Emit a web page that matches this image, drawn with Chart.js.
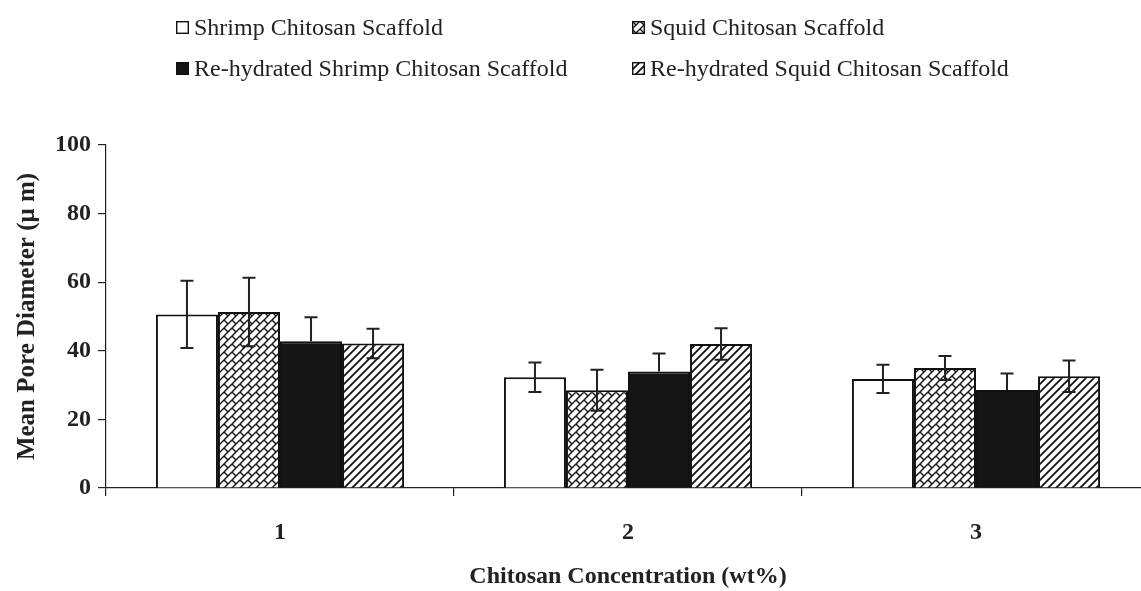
<!DOCTYPE html>
<html>
<head>
<meta charset="utf-8">
<script src="https://cdn.jsdelivr.net/npm/chart.js@4/dist/chart.umd.min.js"></script>
<style>
  html, body { margin: 0; padding: 0; background: #fff; overflow: hidden; }
  #wrap { position: relative; width: 1170px; height: 591px; }
  #legend { position: absolute; left: 0; top: 0; width: 1141px; height: 100px;
            font-family: "Liberation Serif", "Times New Roman", serif; font-size: 24px; color: #222; }
  .item { position: absolute; display: flex; align-items: center; white-space: nowrap; }
  .item canvas { margin-right: 5px; }
</style>
</head>
<body>
<div id="wrap">
  <canvas id="c" width="1170" height="591"></canvas>
  <div id="legend"></div>
</div>
<script>
// ---- data ----
const categories = ['1', '2', '3'];
const seriesNames = [
  'Shrimp Chitosan Scaffold',
  'Squid Chitosan Scaffold',
  'Re-hydrated Shrimp Chitosan Scaffold',
  'Re-hydrated Squid Chitosan Scaffold'
];
const shrimp = [50.6, 32.3, 31.8];
const squid = [51.3, 28.5, 35.0];
const rehydShrimp = [42.8, 34.0, 28.6];
const rehydSquid = [42.1, 42.0, 32.6];
const shrimpErr = [9.8, 4.3, 4.1];
const squidErr = [10.0, 6.0, 3.5];
const rehydShrimpErr = [7.0, 5.2, 4.8];
const rehydSquidErr = [4.3, 4.6, 4.6];
const yTicks = [0, 20, 40, 60, 80, 100];

// ---- patterns ----
function brickTile() {
  const T = 16, c = document.createElement('canvas');
  c.width = T; c.height = T;
  const g = c.getContext('2d');
  g.fillStyle = '#fff'; g.fillRect(0, 0, T, T);
  g.strokeStyle = '#111'; g.lineWidth = 1.4;
  g.beginPath();
  for (let k = -4; k <= 8; k++) {
    const s = 8 * k;
    g.moveTo(s + 20, -20); g.lineTo(s - 20, 20);
  }
  for (let k = -4; k <= 8; k++) {
    const s0 = 8 * k, s1 = s0 + 8;
    const off = (k % 2 === 0) ? 0 : 8;
    for (let m = -4; m <= 4; m++) {
      const d = 16 * m + off;
      g.moveTo((s0 + d) / 2, (s0 - d) / 2);
      g.lineTo((s1 + d) / 2, (s1 - d) / 2);
    }
  }
  g.stroke();
  return c;
}
function hatchTile() {
  const T = 8, c = document.createElement('canvas');
  c.width = T; c.height = T;
  const g = c.getContext('2d');
  g.fillStyle = '#fff'; g.fillRect(0, 0, T, T);
  g.strokeStyle = '#111'; g.lineWidth = 1.8;
  g.beginPath();
  for (let k = -1; k <= 3; k++) {
    const s = T * k;
    g.moveTo(s + 10, -10); g.lineTo(s - 10, 10);
  }
  g.stroke();
  return c;
}
const brick = brickTile(), hatch = hatchTile();
const ctx = document.getElementById('c').getContext('2d');
const fills = ['#ffffff', ctx.createPattern(brick, 'repeat'), '#151515', ctx.createPattern(hatch, 'repeat')];
const tiles = [null, brick, null, hatch];
const values = [shrimp, squid, rehydShrimp, rehydSquid];
const errors = [shrimpErr, squidErr, rehydShrimpErr, rehydSquidErr];
const lowerVisible = [true, true, false, true];

// ---- legend (HTML) ----
const legendPos = [[176, 14], [632, 14], [176, 55], [632, 55]];
const legend = document.getElementById('legend');
seriesNames.forEach((name, i) => {
  const d = document.createElement('div');
  d.className = 'item';
  d.style.left = legendPos[i][0] + 'px';
  d.style.top = legendPos[i][1] + 'px';
  const sw = document.createElement('canvas');
  sw.width = 13; sw.height = 13;
  const g = sw.getContext('2d');
  g.fillStyle = tiles[i] ? g.createPattern(tiles[i], 'repeat') : fills[i];
  g.fillRect(0, 0, 13, 13);
  g.strokeStyle = '#111'; g.lineWidth = 1.4;
  g.strokeRect(0.7, 0.7, 11.6, 11.6);
  d.appendChild(sw);
  const t = document.createElement('span');
  t.textContent = name;
  d.appendChild(t);
  legend.appendChild(d);
});

// ---- error bars plugin ----
const errorBars = {
  id: 'errorBars',
  afterDatasetsDraw(chart) {
    const g = chart.ctx, ys = chart.scales.y;
    g.save();
    g.strokeStyle = '#222'; g.lineWidth = 2;
    chart.data.datasets.forEach((ds, di) => {
      const meta = chart.getDatasetMeta(di);
      meta.data.forEach((bar, j) => {
        const v = ds.data[j], e = ds.errors[j];
        const x = bar.x;
        const yt = ys.getPixelForValue(v + e);
        const yb = ys.getPixelForValue(ds.showLower ? v - e : v);
        g.beginPath();
        g.moveTo(x, yt); g.lineTo(x, yb);
        g.moveTo(x - 6.5, yt); g.lineTo(x + 6.5, yt);
        if (ds.showLower) { g.moveTo(x - 6.5, yb); g.lineTo(x + 6.5, yb); }
        g.stroke();
      });
    });
    g.restore();
  }
};

const serif = '"Liberation Serif", "Times New Roman", serif';
new Chart(ctx, {
  type: 'bar',
  data: {
    labels: categories,
    datasets: seriesNames.map((n, i) => ({
      label: n,
      data: values[i],
      errors: errors[i],
      showLower: lowerVisible[i],
      backgroundColor: fills[i],
      borderColor: '#111',
      borderWidth: 2,
      borderSkipped: 'bottom',
      categoryPercentage: 0.713,
      barPercentage: 1.0
    }))
  },
  options: {
    responsive: false,
    animation: false,
    layout: { padding: { top: 145, right: 20, left: 0, bottom: 0 } },
    plugins: { legend: { display: false }, tooltip: { enabled: false } },
    scales: {
      x: {
        afterFit: s => { s.height = 103; },
        grid: { display: true, offset: true, drawOnChartArea: false, drawTicks: true, tickLength: 8, color: '#222', lineWidth: 1.2 },
        border: { display: true, color: '#222', width: 1.2 },
        ticks: { color: '#222', padding: 22, font: { family: serif, size: 24, weight: 'bold' } },
        title: { display: true, text: 'Chitosan Concentration (wt%)', color: '#222',
                 padding: { top: 0, bottom: 0 }, font: { family: serif, size: 24, weight: 'bold' } }
      },
      y: {
        min: 0, max: 100,
        afterFit: s => { s.width = 106; },
        afterBuildTicks: s => { s.ticks = yTicks.map(v => ({ value: v })); },
        grid: { display: true, drawOnChartArea: false, drawTicks: true, tickLength: 8, color: '#222', lineWidth: 1.2 },
        border: { display: true, color: '#222', width: 1.2 },
        ticks: { color: '#222', padding: 7, font: { family: serif, size: 24, weight: 'bold' } },
        title: { display: true, text: 'Mean Pore Diameter (\u03BC m)', color: '#222',
                 padding: { top: 13, bottom: 0 }, font: { family: serif, size: 25, weight: 'bold' } }
      }
    }
  },
  plugins: [errorBars]
});
</script>
</body>
</html>
